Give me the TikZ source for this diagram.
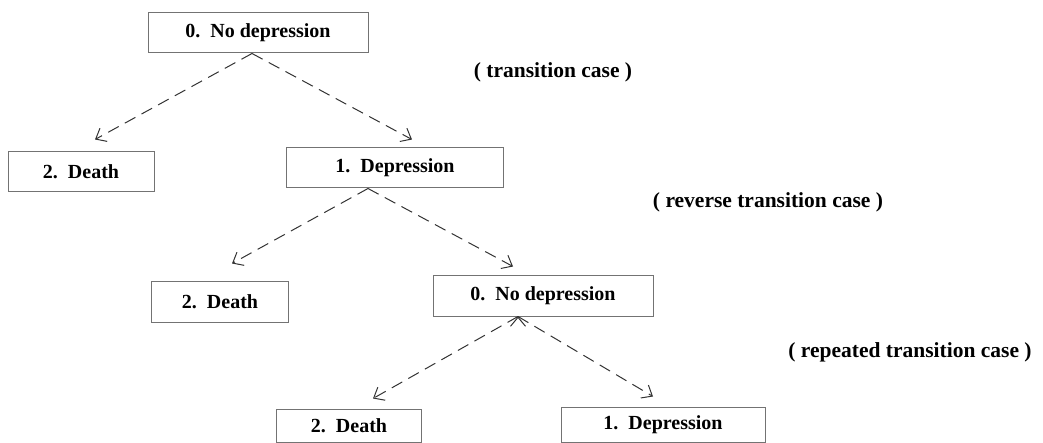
\documentclass[tikz,border=0pt]{standalone}
\usepackage{fontspec}
\setmainfont{Liberation Serif}
\usetikzlibrary{arrows.meta, positioning}

\begin{document}
\begin{tikzpicture}[x=1pt,y=-1pt,font=\bfseries\fontsize{20}{24}\selectfont,->,>={Straight Barb[length=9pt,width=15pt]},line width=1pt]
	
	\tikzset{box st/.style={rectangle, draw=black!55,
			minimum height=40pt, inner sep=0pt,
			text=black}}
	\tikzset{wide st/.style={box st, minimum width=220pt}}
	\tikzset{short st/.style={box st, minimum width=146pt}}
	\tikzset{case lbl/.style={font=\bfseries\fontsize{21.5}{26}\selectfont}}
	\tikzset{trans/.style={dash pattern=on 12pt off 7pt,
			draw=black!80}}
	
	\useasboundingbox (0,0) rectangle (1043,443);
	
	\node[wide st] (N0) at (258,33) {0.~~No depression};
	\node[short st] (D1) at (81,172) {2.~~Death};
	\node[wide st, minimum width=217pt] (P1) at (395,168) {1.~~Depression};
	\node[short st, minimum width=137pt] (D2) at (220,302) {2.~~Death};
	\node[wide st] (N2) at (543,296) {0.~~No depression};
	\node[short st, minimum width=145pt, minimum height=33pt] (D3) at (349,425.5) {2.~~Death};
	\node[wide st, minimum width=204pt, minimum height=35pt] (P3) at (663,424.5) {1.~~Depression};
	
	\node[case lbl] (C1) at (553,72) {( transition case )};
	\node[case lbl] (C2) at (768,202) {( reverse transition case )};
	\node[case lbl] (C3) at (910,352) {( repeated transition case )};
	
	% arrow tips stop short of the boxes
	\coordinate (tD1) at ([xshift=14pt,yshift=12pt]D1.north);
	\coordinate (tP1) at ([xshift=17pt,yshift=8pt]P1.north);
	\coordinate (tD2) at ([xshift=12pt,yshift=18pt]D2.north);
	\coordinate (tN2) at ([xshift=-30pt,yshift=9pt]N2.north);
	\coordinate (tD3) at ([xshift=24pt,yshift=10pt]D3.north);
	\coordinate (tP3) at ([xshift=-10pt,yshift=10pt]P3.north);
	
	\draw[trans]
	([xshift=-6pt]N0.south) edge [->] (tD1)
	([xshift=-6pt]N0.south) edge [->] (tP1)
	([xshift=-27pt]P1.south) edge [->] (tD2)
	([xshift=-27pt]P1.south) edge [->] (tN2)
	([xshift=-25pt]N2.south) edge [->] (tD3)
	([xshift=-25pt]N2.south) edge [->] (tP3);
\end{tikzpicture}
\end{document}
